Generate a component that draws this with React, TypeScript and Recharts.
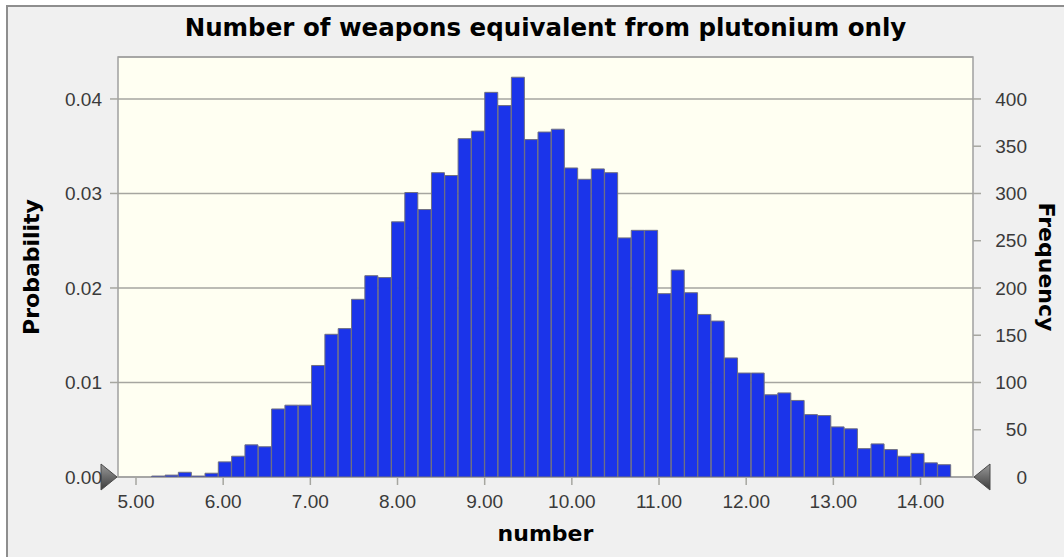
import React from 'react';
import {
  ComposedChart,
  Bar,
  XAxis,
  YAxis,
  CartesianGrid,
  ReferenceArea,
  ReferenceDot,
  Label,
} from 'recharts';

// Histogram bins (bin centers, in "number" units)
const binCenters = [
  5.26, 5.41, 5.56, 5.72, 5.87, 6.02, 6.18, 6.33, 6.48, 6.63,
  6.79, 6.94, 7.09, 7.25, 7.4, 7.55, 7.7, 7.86, 8.01, 8.16,
  8.32, 8.47, 8.62, 8.77, 8.93, 9.08, 9.23, 9.39, 9.54, 9.69,
  9.84, 10.0, 10.15, 10.3, 10.46, 10.61, 10.76, 10.92, 11.07, 11.22,
  11.37, 11.53, 11.68, 11.83, 11.99, 12.14, 12.29, 12.44, 12.6, 12.75,
  12.9, 13.06, 13.21, 13.36, 13.51, 13.67, 13.82, 13.97, 14.13, 14.28,
];

// Frequency (count of trials) per bin
const frequency = [
  1, 2, 5, 1, 4, 16, 22, 34, 32, 72,
  76, 76, 118, 151, 157, 188, 213, 211, 270, 301,
  283, 322, 319, 358, 366, 407, 393, 423, 357, 365,
  368, 327, 315, 326, 322, 253, 261, 261, 194, 219,
  195, 172, 165, 126, 110, 110, 87, 89, 81, 66,
  65, 53, 51, 30, 35, 29, 22, 25, 15, 13,
];

const xTicks = [5, 6, 7, 8, 9, 10, 11, 12, 13, 14];
const xDomain = [4.7935, 14.602];
const probTicks = [0, 0.01, 0.02, 0.03, 0.04];
const probDomain = [0, 0.04444];
const freqTicks = [0, 50, 100, 150, 200, 250, 300, 350, 400];
const freqDomain = [0, 444.4];

const data = binCenters.map((c, i) => ({ center: c, freq: frequency[i] }));

const TICK_FONT = "'Liberation Sans', Arial, sans-serif";
const BOLD_FONT = "'DejaVu Sans', Verdana, sans-serif";
const TICK_COLOR = '#3a3a3a';
const LINE_COLOR = '#a6a6a0';

const RightTick = (props: any) => {
  const { x, y, payload } = props;
  return (
    <text
      x={x + 44}
      y={y}
      dy="0.355em"
      textAnchor="end"
      fill={TICK_COLOR}
      fontSize={19}
      fontFamily={TICK_FONT}
    >
      {payload.value}
    </text>
  );
};

const LeftMarker = (props: any) => {
  const { cx, cy } = props;
  return (
    <polygon
      points={`${cx - 17},${cy - 13} ${cx - 17},${cy + 13} ${cx - 1},${cy}`}
      fill="url(#markGrad)"
      stroke="#4a4a4a"
      strokeWidth={1}
    />
  );
};

const RightMarker = (props: any) => {
  const { cx, cy } = props;
  return (
    <polygon
      points={`${cx + 17},${cy - 13} ${cx + 17},${cy + 13} ${cx + 1},${cy}`}
      fill="url(#markGrad)"
      stroke="#4a4a4a"
      strokeWidth={1}
    />
  );
};

export default function App() {
  return (
    <div style={{ position: 'relative', width: 1064, height: 557, background: '#ffffff', overflow: 'hidden' }}>
      <style>{`body{margin:0;}`}</style>
      <div
        style={{
          position: 'absolute',
          left: 6,
          top: 5,
          right: 0,
          bottom: 0,
          background: '#f0f0f0',
          borderLeft: '2px solid #8e8e8e',
          borderTop: '2px solid #8e8e8e',
        }}
      />
      <div
        style={{
          position: 'absolute',
          left: 118,
          width: 855,
          top: 16,
          textAlign: 'center',
          fontFamily: BOLD_FONT,
          fontWeight: 'bold',
          fontSize: 24.5,
          lineHeight: '24.5px',
          color: '#000',
          whiteSpace: 'nowrap',
        }}
      >
        Number of weapons equivalent from plutonium only
      </div>
      <div style={{ position: 'absolute', left: 0, top: 0 }}>
        <ComposedChart
          width={1064}
          height={557}
          data={data}
          margin={{ top: 57, right: 0, bottom: 0, left: 0 }}
          barCategoryGap={0}
          barGap={0}
        >
          <defs>
            <linearGradient id="markGrad" x1="0" y1="0" x2="0" y2="1">
              <stop offset="0%" stopColor="#9a9a9a" />
              <stop offset="100%" stopColor="#3c3c3c" />
            </linearGradient>
          </defs>
          <CartesianGrid
            xAxisId="num"
            yAxisId="p"
            vertical={false}
            stroke={LINE_COLOR}
            strokeWidth={1.5}
            fill="#fffff2"
            fillOpacity={1}
          />
          <XAxis
            xAxisId="num"
            dataKey="center"
            type="number"
            domain={xDomain}
            allowDataOverflow
            ticks={xTicks}
            tickFormatter={(v: number) => v.toFixed(2)}
            height={80}
            axisLine={false}
            tickSize={8}
            tickMargin={10}
            tickLine={{ stroke: LINE_COLOR, strokeWidth: 1.5 }}
            tick={{ fill: TICK_COLOR, fontSize: 19, fontFamily: TICK_FONT }}
          >
            <Label
              value="number"
              position="insideBottom"
              offset={16}
              style={{ fontFamily: BOLD_FONT, fontWeight: 'bold', fontSize: 22, fill: '#000' }}
            />
          </XAxis>
          <XAxis
            xAxisId="bins"
            dataKey="center"
            type="category"
            hide
            height={0}
            padding={{ left: 33.7, right: 22 }}
          />
          <YAxis
            yAxisId="p"
            orientation="left"
            type="number"
            domain={probDomain}
            allowDataOverflow
            ticks={probTicks}
            tickFormatter={(v: number) => v.toFixed(2)}
            width={118}
            axisLine={false}
            tickSize={8}
            tickMargin={8}
            tickLine={{ stroke: LINE_COLOR, strokeWidth: 1.5 }}
            tick={{ fill: TICK_COLOR, fontSize: 19, fontFamily: TICK_FONT }}
          >
            <Label
              value="Probability"
              angle={-90}
              position="insideLeft"
              offset={31}
              style={{ textAnchor: 'middle', fontFamily: BOLD_FONT, fontWeight: 'bold', fontSize: 22, fill: '#000' }}
            />
          </YAxis>
          <YAxis
            yAxisId="freq"
            orientation="right"
            type="number"
            domain={freqDomain}
            allowDataOverflow
            ticks={freqTicks}
            width={91}
            axisLine={false}
            tickSize={8}
            tickMargin={2}
            tickLine={{ stroke: LINE_COLOR, strokeWidth: 1.5 }}
            tick={<RightTick />}
          >
            <Label
              value="Frequency"
              angle={90}
              position="insideRight"
              offset={17}
              style={{ textAnchor: 'middle', fontFamily: BOLD_FONT, fontWeight: 'bold', fontSize: 22, fill: '#000' }}
            />
          </YAxis>
          <Bar
            xAxisId="bins"
            yAxisId="freq"
            dataKey="freq"
            fill="#1b34ea"
            stroke="#707080"
            strokeWidth={1}
            isAnimationActive={false}
          />
          <ReferenceArea
            xAxisId="num"
            yAxisId="freq"
            x1={xDomain[0]}
            x2={xDomain[1]}
            y1={freqDomain[0]}
            y2={freqDomain[1]}
            fill="none"
            fillOpacity={0}
            stroke="#a0a0a0"
            strokeWidth={1.5}
            ifOverflow="visible"
          />
          <ReferenceDot
            xAxisId="num"
            yAxisId="p"
            x={xDomain[0]}
            y={0}
            ifOverflow="visible"
            shape={<LeftMarker />}
          />
          <ReferenceDot
            xAxisId="num"
            yAxisId="p"
            x={xDomain[1]}
            y={0}
            ifOverflow="visible"
            shape={<RightMarker />}
          />
        </ComposedChart>
      </div>
    </div>
  );
}
